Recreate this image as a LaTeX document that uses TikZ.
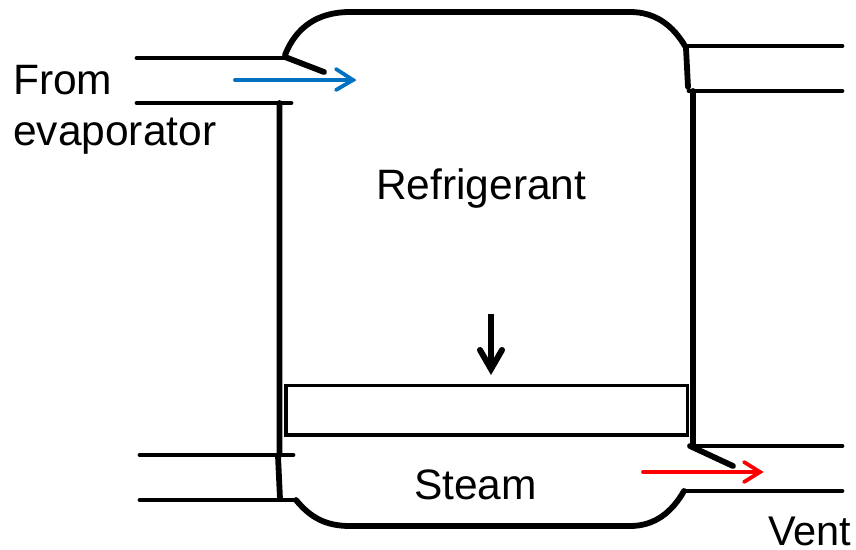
\documentclass[tikz,border=0pt]{standalone}
\usepackage{fontspec}
\setmainfont{Liberation Sans}
\definecolor{flowblue}{RGB}{0,112,192}
\tikzset{
  wall/.style={draw=black,line width=5.8pt,line cap=round,line join=round},
  pipe/.style={draw=black,line width=4.8pt,line cap=round},
  plate/.style={draw=black,line width=3.2pt},
  flow/.style={line width=3.8pt,line cap=round,line join=miter},
  label/.style={inner sep=0pt,anchor=base west,font=\fontsize{42.5}{48}\selectfont}
}
\begin{document}
\begin{tikzpicture}[x=1pt,y=-1pt]
\useasboundingbox (0,0) rectangle (856,549);
% vessel top and bottom
\draw[wall] (285,55) .. controls (296,27) and (318,12) .. (350,12) -- (630,12) .. controls (656,12) and (673,26) .. (685,46);
\draw[wall] (296,500) .. controls (310,517) and (325,526) .. (350,526) -- (630,526) .. controls (655,526) and (672,512) .. (684,491);
% walls
\draw[wall] (279.5,103) -- (279.5,455) -- (278,456) -- (280,499);
\draw[wall] (686,48) -- (688,87);
\draw[wall] (693,91) -- (693,446);
% flaps
\draw[wall] (285,57) -- (324,72);
\draw[wall] (690,446) -- (733,466);
% pipes
\draw[pipe] (137,58) -- (285,58);
\draw[pipe] (137,103) -- (291,103);
\draw[pipe] (140,455) -- (293,455);
\draw[pipe] (140,500) -- (296,500);
\draw[pipe] (686,46) -- (842,46);
\draw[pipe] (689,91) -- (842,91);
\draw[pipe] (690,446) -- (842,446);
\draw[pipe] (686,491) -- (842,491);
% plate
\draw[plate] (286,385.5) rectangle (687.5,435);
% arrows
\draw[flow,flowblue] (235,80) -- (353,80);
\draw[flow,flowblue] (336,69) -- (353,80) -- (336,90);
\draw[flow,red] (643,472) -- (760,472);
\draw[flow,red] (744,462) -- (760,472) -- (744,482);
\draw[line width=6.5pt] (491,314) -- (491,368);
\draw[line width=6pt,line cap=round,line join=miter] (480,350) -- (491,369) -- (502,350);
% text
\node[label] (from) at (13,94) {From};
\node[label] (evap) at (13,145) {evaporator};
\node[label] (refr) at (376,199) {Refrigerant};
\node[label] (steam) at (414,499) {Steam};
\node[label,font=\fontsize{41.5}{47}\selectfont] (vent) at (768,545) {Vent};
\end{tikzpicture}
\end{document}
